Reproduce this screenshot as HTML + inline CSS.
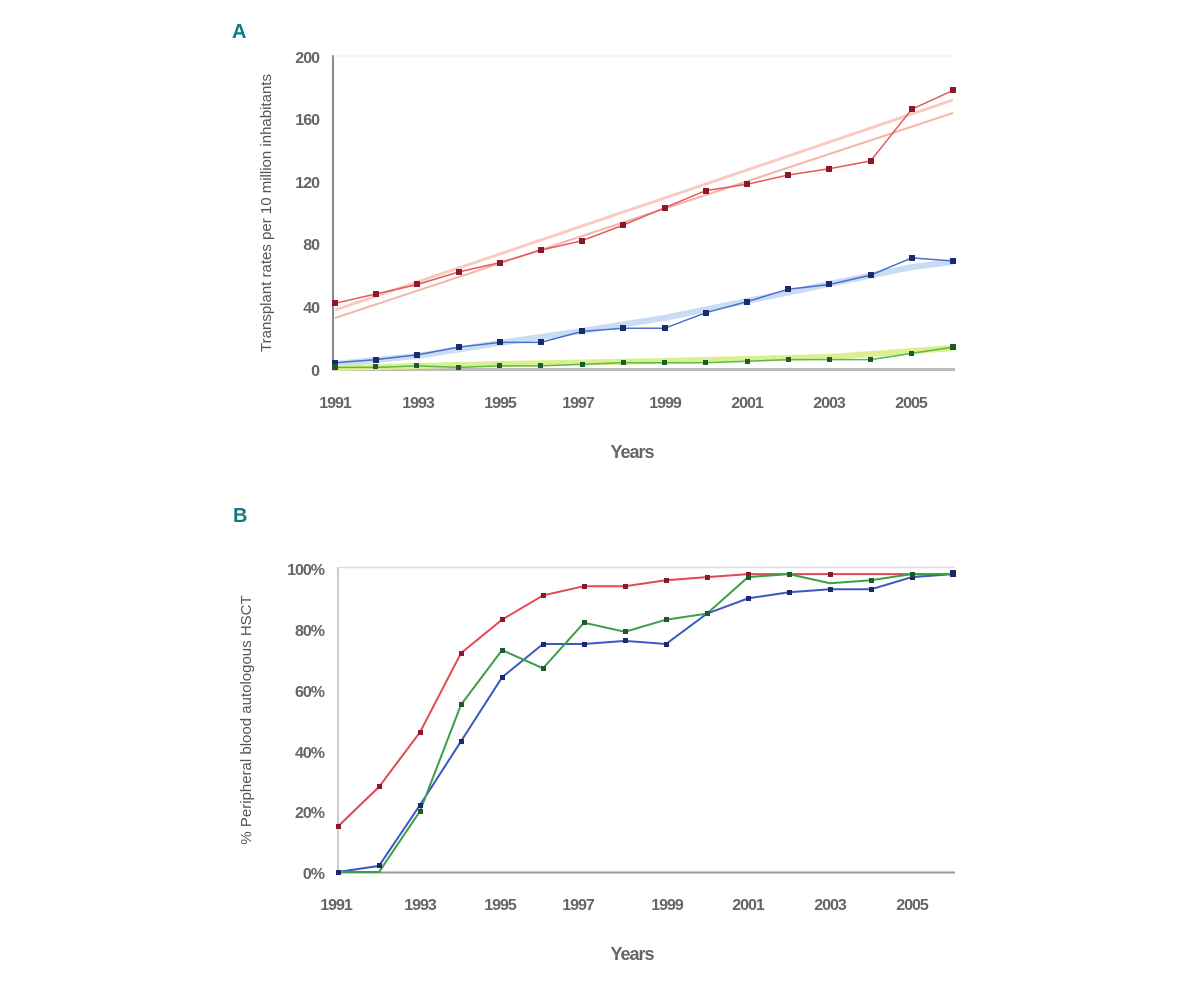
<!DOCTYPE html>
<html><head><meta charset="utf-8"><style>
html,body{margin:0;padding:0;background:#fff;}
svg{display:block;font-family:"Liberation Sans",sans-serif;}
</style></head><body>
<svg width="1200" height="981" viewBox="0 0 1200 981" xmlns="http://www.w3.org/2000/svg">
<rect width="1200" height="981" fill="#fff"/>
<!-- Panel A -->
<text x="232" y="38" font-size="20" font-weight="bold" fill="#127a7a">A</text>
<line x1="333" y1="55" x2="333" y2="370" stroke="#888" stroke-width="2"/>
<line x1="333" y1="369.5" x2="955" y2="369.5" stroke="#bbb" stroke-width="3"/>
<line x1="333" y1="56" x2="955" y2="56" stroke="#eee" stroke-width="1"/>
<g font-size="16" font-weight="bold" letter-spacing="-1" fill="#666" text-anchor="end">
<text x="319" y="63">200</text><text x="319" y="125">160</text><text x="319" y="188">120</text>
<text x="319" y="250">80</text><text x="319" y="313">40</text><text x="319" y="376">0</text>
</g>
<g font-size="16" font-weight="bold" letter-spacing="-1" fill="#666" text-anchor="middle">
<text x="335" y="408">1991</text><text x="418" y="408">1993</text><text x="500" y="408">1995</text>
<text x="578" y="408">1997</text><text x="665" y="408">1999</text><text x="747" y="408">2001</text>
<text x="829" y="408">2003</text><text x="911" y="408">2005</text>
</g>
<text x="632" y="458" font-size="18" font-weight="bold" letter-spacing="-1" fill="#666" text-anchor="middle">Years</text>
<text transform="translate(271,213) rotate(-90)" font-size="15" fill="#555" text-anchor="middle">Transplant rates per 10 million inhabitants</text>
<!-- trends -->
<line x1="335" y1="318" x2="953" y2="113" stroke="#f4b4a8" stroke-width="2"/>
<line x1="335" y1="310" x2="953" y2="100" stroke="#f8cbc0" stroke-width="3"/>
<polyline points="335,364 417,356 499,343 582,331 664,318 747,301 829,284 912,267 953,262" fill="none" stroke="#c8dcf4" stroke-width="6"/>
<polyline points="335,368 500,364 664,361 829,357 953,348" fill="none" stroke="#dcef90" stroke-width="6"/>
<polyline points="335,303.3 376.2,293.9 417.4,284.5 458.6,272 499.8,262.6 541,250.1 582.2,240.7 623.4,225 664.6,207.8 705.8,190.6 747,184.3 788.2,175 829.4,168.7 870.6,160.9 911.8,109.2 953,90.4" fill="none" stroke="#e8585a" stroke-width="1.5"/>
<polyline points="335,362.7 376.2,359.6 417.4,354.9 458.6,347.1 499.8,342.4 541,342.4 582.2,331.4 623.4,328.3 664.6,328.3 705.8,312.7 747,301.7 788.2,289.2 829.4,284.5 870.6,275.1 911.8,257.9 953,261" fill="none" stroke="#4a6fc8" stroke-width="1.5"/>
<polyline points="335,367.4 376.2,367.4 417.4,365.9 458.6,367.4 499.8,365.9 541,365.9 582.2,364.3 623.4,362.7 664.6,362.7 705.8,362.7 747,361.2 788.2,359.6 829.4,359.6 870.6,359.6 911.8,353.4 953,347.1" fill="none" stroke="#5cb84a" stroke-width="1.5"/>
<g fill="#8a1a2a">
<rect x="332" y="300" width="6" height="6"/><rect x="373" y="291" width="6" height="6"/><rect x="414" y="281" width="6" height="6"/><rect x="456" y="269" width="6" height="6"/><rect x="497" y="260" width="6" height="6"/><rect x="538" y="247" width="6" height="6"/><rect x="579" y="238" width="6" height="6"/><rect x="620" y="222" width="6" height="6"/><rect x="662" y="205" width="6" height="6"/><rect x="703" y="188" width="6" height="6"/><rect x="744" y="181" width="6" height="6"/><rect x="785" y="172" width="6" height="6"/><rect x="826" y="166" width="6" height="6"/><rect x="868" y="158" width="6" height="6"/><rect x="909" y="106" width="6" height="6"/><rect x="950" y="87" width="6" height="6"/>
</g>
<g fill="#1a2a6a">
<rect x="332" y="360" width="6" height="6"/><rect x="373" y="357" width="6" height="6"/><rect x="414" y="352" width="6" height="6"/><rect x="456" y="344" width="6" height="6"/><rect x="497" y="339" width="6" height="6"/><rect x="538" y="339" width="6" height="6"/><rect x="579" y="328" width="6" height="6"/><rect x="620" y="325" width="6" height="6"/><rect x="662" y="325" width="6" height="6"/><rect x="703" y="310" width="6" height="6"/><rect x="744" y="299" width="6" height="6"/><rect x="785" y="286" width="6" height="6"/><rect x="826" y="281" width="6" height="6"/><rect x="868" y="272" width="6" height="6"/><rect x="909" y="255" width="6" height="6"/><rect x="950" y="258" width="6" height="6"/>
</g>
<g fill="#1e5a2a">
<rect x="332" y="364" width="6" height="6"/><rect x="373" y="364" width="5" height="5"/><rect x="414" y="363" width="5" height="5"/><rect x="456" y="365" width="5" height="5"/><rect x="497" y="363" width="5" height="5"/><rect x="538" y="363" width="5" height="5"/><rect x="580" y="362" width="5" height="5"/><rect x="621" y="360" width="5" height="5"/><rect x="662" y="360" width="5" height="5"/><rect x="703" y="360" width="5" height="5"/><rect x="745" y="359" width="5" height="5"/><rect x="786" y="357" width="5" height="5"/><rect x="827" y="357" width="5" height="5"/><rect x="868" y="357" width="5" height="5"/><rect x="909" y="351" width="5" height="5"/><rect x="950" y="344" width="6" height="6"/>
</g>

<!-- Panel B -->
<text x="233" y="522" font-size="20" font-weight="bold" fill="#127a7a">B</text>
<line x1="338" y1="567" x2="338" y2="873" stroke="#ccc" stroke-width="2"/>
<line x1="338" y1="567.5" x2="955" y2="567.5" stroke="#ddd" stroke-width="1.5"/>
<line x1="338" y1="872.5" x2="955" y2="872.5" stroke="#999" stroke-width="2"/>
<g font-size="16" font-weight="bold" letter-spacing="-1" fill="#666" text-anchor="end">
<text x="324" y="575">100%</text><text x="324" y="636">80%</text><text x="324" y="697">60%</text>
<text x="324" y="758">40%</text><text x="324" y="818">20%</text><text x="324" y="879">0%</text>
</g>
<g font-size="16" font-weight="bold" letter-spacing="-1" fill="#666" text-anchor="middle">
<text x="336" y="910">1991</text><text x="420" y="910">1993</text><text x="500" y="910">1995</text>
<text x="578" y="910">1997</text><text x="667" y="910">1999</text><text x="748" y="910">2001</text>
<text x="830" y="910">2003</text><text x="912" y="910">2005</text>
</g>
<text x="632" y="960" font-size="18" font-weight="bold" letter-spacing="-1" fill="#666" text-anchor="middle">Years</text>
<text transform="translate(251,720) rotate(-90)" font-size="15" fill="#555" text-anchor="middle">% Peripheral blood autologous HSCT</text>
<polyline points="338,826.4 379,786.9 420,732.2 461,653.1 502,619.7 543,595.4 584,586.2 625,586.2 666,580.2 707,577.1 748,574.1 789,574.1 830,574.1 871,574.1 912,574.1 953,574.1" fill="none" stroke="#e04a50" stroke-width="2"/>
<polyline points="338,872 379,865.9 420,805.1 461,741.3 502,677.4 543,644 584,644 625,640.9 666,644 707,613.6 748,598.4 789,592.3 830,589.3 871,589.3 912,577.1 953,574.1" fill="none" stroke="#3a5ac0" stroke-width="2"/>
<polyline points="338,872 379,872 420,811.2 461,704.8 502,650.1 543,668.3 584,622.7 625,631.8 666,619.7 707,613.6 748,577.1 789,574.1 830,583.2 871,580.2 912,574.1 953,574.1" fill="none" stroke="#3aa048" stroke-width="2"/>
<g fill="#8a1a2a">
<rect x="336" y="824" width="5" height="5"/><rect x="377" y="784" width="5" height="5"/><rect x="418" y="730" width="5" height="5"/><rect x="459" y="651" width="5" height="5"/><rect x="500" y="617" width="5" height="5"/><rect x="541" y="593" width="5" height="5"/><rect x="582" y="584" width="5" height="5"/><rect x="623" y="584" width="5" height="5"/><rect x="664" y="578" width="5" height="5"/><rect x="705" y="575" width="5" height="5"/><rect x="746" y="572" width="5" height="5"/><rect x="828" y="572" width="5" height="5"/>
</g>
<g fill="#1a2a6a">
<rect x="336" y="870" width="5" height="5"/><rect x="377" y="863" width="5" height="5"/><rect x="418" y="803" width="5" height="5"/><rect x="459" y="739" width="5" height="5"/><rect x="500" y="675" width="5" height="5"/><rect x="541" y="642" width="5" height="5"/><rect x="582" y="642" width="5" height="5"/><rect x="623" y="638" width="5" height="5"/><rect x="664" y="642" width="5" height="5"/><rect x="705" y="611" width="5" height="5"/><rect x="746" y="596" width="5" height="5"/><rect x="787" y="590" width="5" height="5"/><rect x="828" y="587" width="5" height="5"/><rect x="869" y="587" width="5" height="5"/><rect x="910" y="575" width="5" height="5"/><rect x="950" y="570" width="6" height="7"/>
</g>
<g fill="#1e5a2a">
<rect x="418" y="809" width="5" height="5"/><rect x="459" y="702" width="5" height="5"/><rect x="500" y="648" width="5" height="5"/><rect x="541" y="666" width="5" height="5"/><rect x="582" y="620" width="5" height="5"/><rect x="623" y="629" width="5" height="5"/><rect x="664" y="617" width="5" height="5"/><rect x="705" y="611" width="5" height="5"/><rect x="746" y="575" width="5" height="5"/><rect x="787" y="572" width="5" height="5"/><rect x="869" y="578" width="5" height="5"/><rect x="910" y="572" width="5" height="5"/>
</g>
</svg>
</body></html>
